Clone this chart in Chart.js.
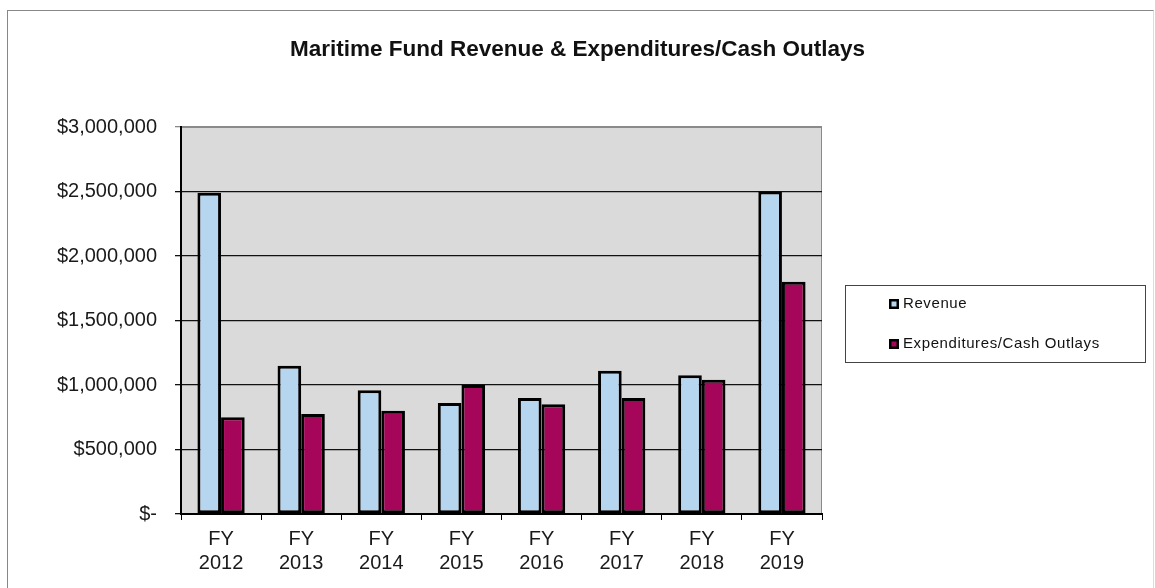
<!DOCTYPE html>
<html>
<head>
<meta charset="utf-8">
<script src="https://cdn.jsdelivr.net/npm/chart.js@4"></script>
<style>
  html, body { margin: 0; padding: 0; background: #fff; }
  #wrap { position: relative; width: 1155px; height: 588px; }
  #frame { position: absolute; left: 7px; top: 10px; width: 1145px; height: 590px;
           border-left: 1px solid #888; border-top: 1px solid #888; border-right: 1px solid #ddd; }
  canvas { position: absolute; left: 0; top: 0; }
</style>
</head>
<body>
<div id="wrap">
  <div id="frame"></div>
  <canvas id="fund-chart" width="1155" height="588"></canvas>
</div>
<script>
// fiscal years on the x axis
const years = ['FY 2012', 'FY 2013', 'FY 2014', 'FY 2015', 'FY 2016', 'FY 2017', 'FY 2018', 'FY 2019'];
// values
const revenue = [2490000, 1150000, 960000, 860000, 900000, 1110000, 1075000, 2500000];
const outlays = [750000, 775000, 800000, 1000000, 850000, 900000, 1040000, 1800000];
const yTicks = [0, 500000, 1000000, 1500000, 2000000, 2500000, 3000000];

const blue = '#b6d6ef';
const maroon = '#a6065a';

// gray plot area with a thin border on top/right
const plotBackground = {
  id: 'plotBackground',
  afterLayout(chart) {
    // title spans the whole canvas, not just the area left of the legend
    const t = chart.titleBlock;
    if (t) { t.left = 0; t.right = chart.width; t.width = chart.width; }
  },
  beforeDraw(chart) {
    const { ctx, chartArea: a } = chart;
    ctx.save();
    ctx.fillStyle = '#dadada';
    ctx.fillRect(a.left, a.top, a.right - a.left, a.bottom - a.top);
    ctx.strokeStyle = '#8a8a8a';
    ctx.lineWidth = 1;
    ctx.strokeRect(a.left + 0.5, a.top + 0.5, a.right - a.left - 1, a.bottom - a.top);
    ctx.restore();
  }
};

// boxed legend off to the right, like the Excel one
const boxLegend = {
  id: 'boxLegend',
  afterDraw(chart) {
    const ctx = chart.ctx;
    ctx.save();
    ctx.strokeStyle = '#444';
    ctx.lineWidth = 1;
    ctx.strokeRect(845.5, 285.5, 300, 77);
    ctx.font = '15px "Liberation Sans", Arial, sans-serif';
    ctx.textBaseline = 'middle';
    chart.data.datasets.forEach((ds, i) => {
      const y = 304 + i * 40;
      ctx.fillStyle = '#000';
      ctx.fillRect(889, y - 5, 10, 10);
      ctx.fillStyle = ds.backgroundColor;
      ctx.fillRect(891.5, y - 2.5, 5, 5);
      ctx.fillStyle = '#111';
      ctx.letterSpacing = '0.6px';
      ctx.fillText(ds.label, 903, y);
    });
    ctx.restore();
  }
};

const fmtMoney = (v) => v === 0 ? '$-' : '$' + v.toLocaleString('en-US');

const ctx = document.getElementById('fund-chart').getContext('2d');
const chart = new Chart(ctx, {
  type: 'bar',
  data: {
    labels: years.map(y => y.split(' ')),
    datasets: [{
      label: 'Revenue',
      data: revenue,
      backgroundColor: blue,
      borderColor: '#000',
      borderWidth: 3,
      borderSkipped: false
    }, {
      label: 'Expenditures/Cash Outlays',
      data: outlays,
      backgroundColor: maroon,
      borderColor: '#000',
      borderWidth: 3,
      borderSkipped: false
    }]
  },
  options: {
    responsive: false,
    animation: false,
    layout: { padding: { left: 0, right: 333, top: 0, bottom: 0 } },
    datasets: { bar: { categoryPercentage: 0.59, barPercentage: 1.0 } },
    scales: {
      x: {
        offset: true,
        grid: { display: true, drawOnChartArea: false, drawTicks: true, tickLength: 6, color: '#000', offset: true },
        border: { display: true, color: '#000', width: 2 },
        ticks: {
          color: '#1a1a1a',
          padding: 7,
          font: { family: '"Liberation Sans", Arial, sans-serif', size: 20, lineHeight: 1.2 },
          maxRotation: 0
        },
        afterFit(scale) { scale.height = 74; }
      },
      y: {
        min: 0,
        max: 3000000,
        afterBuildTicks(scale) { scale.ticks = yTicks.map(v => ({ value: v })); },
        grid: {
          color: (c) => c.tick && c.tick.value === 3000000 ? '#8a8a8a' : '#111',
          lineWidth: 1.3,
          tickLength: 6,
          drawTicks: true
        },
        border: { display: true, color: '#000', width: 2 },
        ticks: {
          color: '#1a1a1a',
          padding: 18,
          font: { family: '"Liberation Sans", Arial, sans-serif', size: 20 },
          callback: (v) => fmtMoney(v)
        },
        afterFit(scale) { scale.width = 181; }
      }
    },
    plugins: {
      legend: { display: false },
      tooltip: { enabled: false },
      title: {
        display: true,
        text: 'Maritime Fund Revenue & Expenditures/Cash Outlays',
        color: '#111',
        font: { family: '"Liberation Sans", Arial, sans-serif', size: 22.5, weight: 'bold', lineHeight: 1.2 },
        padding: { top: 36, bottom: 64 }
      }
    }
  },
  plugins: [plotBackground, boxLegend]
});
</script>
</body>
</html>
